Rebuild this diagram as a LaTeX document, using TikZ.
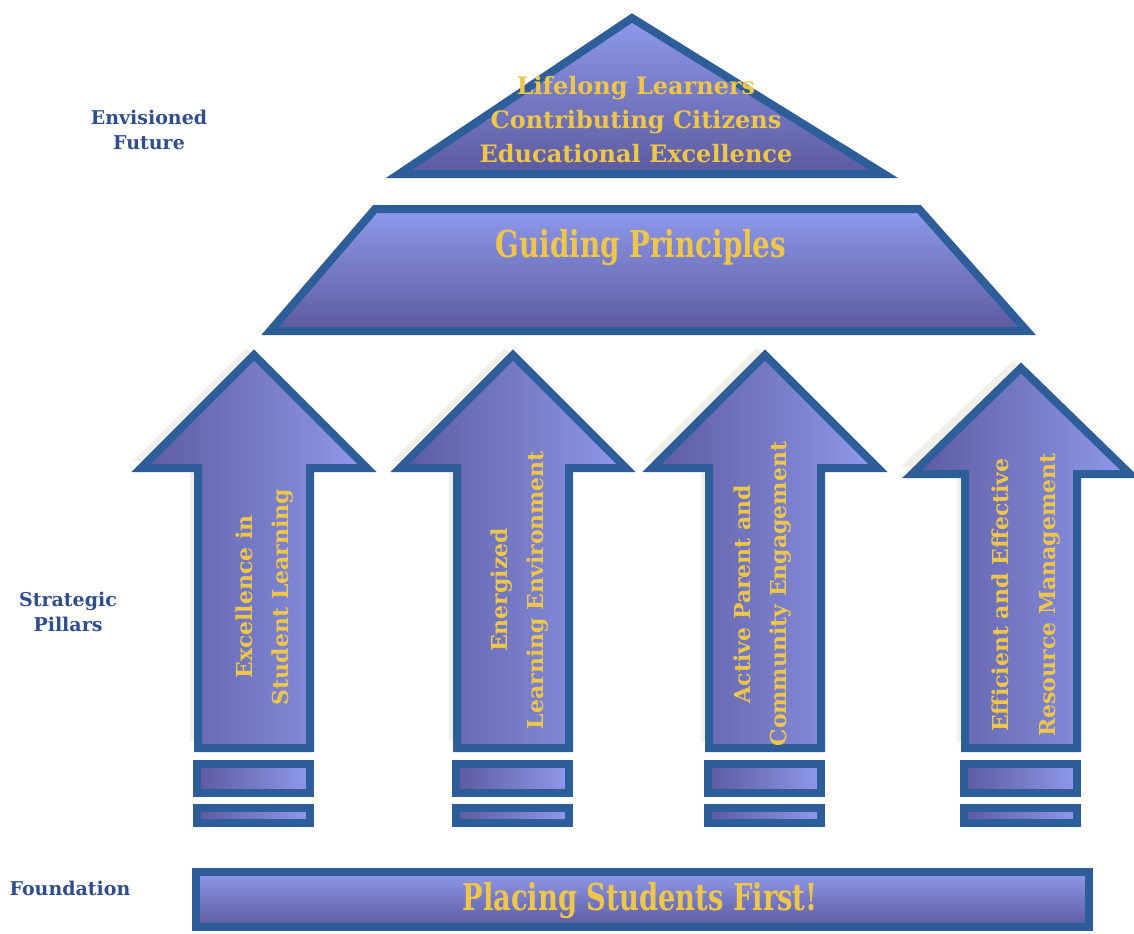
\documentclass[tikz,border=0pt]{standalone}
\usepackage{fontspec}
\setmainfont{DejaVu Serif}
\usepackage{graphicx}
\definecolor{edgeblue}{HTML}{2D5E9A}
\definecolor{lightfill}{HTML}{8F99EC}
\definecolor{darkfill}{HTML}{5C5A9E}
\definecolor{gold}{HTML}{EDC64A}
\definecolor{labelblue}{HTML}{2F4E8E}
\definecolor{glow}{HTML}{F1EFEA}

\begin{document}
\begin{tikzpicture}[x=0.5pt,y=-0.5pt,
  block/.style={draw=edgeblue, line width=4pt, top color=lightfill, bottom color=darkfill},
  pillar/.style={draw=edgeblue, line width=4pt, left color=darkfill, right color=lightfill},
  shadowbox/.style={fill=glow, shift={(-8,-7)}},
  goldtext/.style={text=gold, font=\bfseries\fontsize{12}{17}\selectfont, align=center},
  pillartext/.style={text=gold, font=\bfseries\fontsize{11}{18}\selectfont, align=center, rotate=90},
  sidelabel/.style={text=labelblue, font=\bfseries\fontsize{9.5}{12.5}\selectfont, align=center}]
\useasboundingbox (0,0) rectangle (1134,933);

% envisioned future and guiding principles
\draw[block] (399,174)--(632,18)--(884,174)--cycle;
\draw[block] (375,209)--(919,209)--(1027,331)--(270,331)--cycle;
\node (future) [goldtext] at (636,120) {Lifelong Learners\\Contributing Citizens\\Educational Excellence};
\node (principles) [text=gold] at (641,248) {\bfseries\fontsize{18.5}{20}\selectfont\scalebox{0.75}[1]{Guiding Principles}};

% glow behind the pillars
\fill[shadowbox] (254,355)--(367,468)--(310,468)--(310,748)--(198,748)--(198,468)--(141,468)--cycle;
\fill[shadowbox] (513,355)--(626,468)--(569,468)--(569,748)--(457,748)--(457,468)--(400,468)--cycle;
\fill[shadowbox] (765,355)--(878,468)--(821,468)--(821,748)--(709,748)--(709,468)--(652,468)--cycle;
\fill[shadowbox] (1021,368)--(1134,474)--(1077,474)--(1077,748)--(965,748)--(965,474)--(908,474)--cycle;

% strategic pillars
\draw[pillar] (254,355)--(367,468)--(310,468)--(310,748)--(198,748)--(198,468)--(141,468)--cycle;
\draw[pillar] (197,764) rectangle (310,793);
\draw[pillar] (197,808) rectangle (310,823);
\node (pillarA) [pillartext] at (265,597) {Excellence in\\Student Learning};

\draw[pillar] (513,355)--(626,468)--(569,468)--(569,748)--(457,748)--(457,468)--(400,468)--cycle;
\draw[pillar] (456,764) rectangle (569,793);
\draw[pillar] (456,808) rectangle (569,823);
\node (pillarB) [pillartext] at (520,590) {Energized\\Learning Environment};

\draw[pillar] (765,355)--(878,468)--(821,468)--(821,748)--(709,748)--(709,468)--(652,468)--cycle;
\draw[pillar] (708,764) rectangle (821,793);
\draw[pillar] (708,808) rectangle (821,823);
\node (pillarC) [pillartext] at (763,594) {Active Parent and\\Community Engagement};

\draw[pillar] (1021,368)--(1130,474)--(1077,474)--(1077,748)--(965,748)--(965,474)--(912,474)--cycle;
\draw[pillar] (964,764) rectangle (1077,793);
\draw[pillar] (964,808) rectangle (1077,823);
\node (pillarD) [pillartext, font=\bfseries\fontsize{11}{23.5}\selectfont] at (1026,595) {Efficient and Effective\\Resource Management};

% foundation
\draw[block] (196,872) rectangle (1089,927);
\node (first) [text=gold] at (640,901) {\bfseries\fontsize{18.5}{20}\selectfont\scalebox{0.74}[1]{Placing Students First!}};

% labels on the left
\node (envisioned) [sidelabel] at (149,130) {Envisioned\\Future};
\node (strategic) [sidelabel] at (68,612) {Strategic\\Pillars};
\node (foundation) [sidelabel] at (70,888) {Foundation};
\end{tikzpicture}
\end{document}
